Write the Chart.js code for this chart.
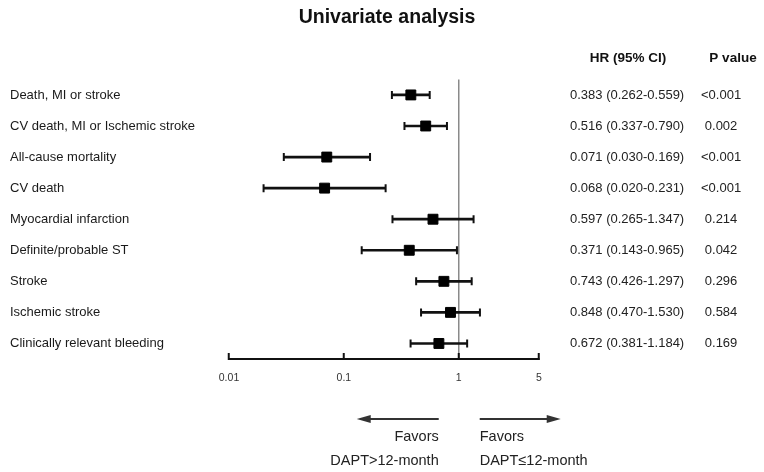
<!DOCTYPE html>
<html>
<head>
<meta charset="utf-8">
<script src="https://cdn.jsdelivr.net/npm/chart.js@4.4.0/dist/chart.umd.min.js"></script>
<style>
  html, body { margin: 0; padding: 0; background: #fff; }
  canvas { display: block; }
</style>
</head>
<body>
<canvas id="forest" width="764" height="472"></canvas>
<script>
// outcomes, top to bottom
var outcomes = ['Death, MI or stroke', 'CV death, MI or Ischemic stroke', 'All-cause mortality', 'CV death',
  'Myocardial infarction', 'Definite/probable ST', 'Stroke', 'Ischemic stroke', 'Clinically relevant bleeding'];
var hr = [0.383, 0.516, 0.071, 0.068, 0.597, 0.371, 0.743, 0.848, 0.672];
var ciLow = [0.262, 0.337, 0.030, 0.020, 0.265, 0.143, 0.426, 0.470, 0.381];
var ciHigh = [0.559, 0.790, 0.169, 0.231, 1.347, 0.965, 1.297, 1.530, 1.184];
var pValues = ['<0.001', '0.002', '<0.001', '<0.001', '0.214', '0.042', '0.296', '0.584', '0.169'];
var tickValues = [0.01, 0.1, 1, 5];
var tickLabels = ['0.01', '0.1', '1', '5'];

var FONT = "'Liberation Sans', Arial, Helvetica, sans-serif";
Chart.defaults.font.family = FONT;

// "0.383 (0.262-0.559)" column text
var hrText = hr.map(function(v, i) {
  return v.toFixed(3) + ' (' + ciLow[i].toFixed(3) + '-' + ciHigh[i].toFixed(3) + ')';
});

var ciBars = outcomes.map(function(o, i) { return [ciLow[i], ciHigh[i]]; });
var caps = [];
outcomes.forEach(function(o, i) {
  caps.push({x: ciLow[i], y: o});
  caps.push({x: ciHigh[i], y: o});
});
var points = outcomes.map(function(o, i) { return {x: hr[i], y: o}; });

// headers, arrows and "Favors" text below the axis
var extras = {
  id: 'extras',
  afterDraw: function(chart) {
    var c = chart.ctx;
    var px1 = chart.scales.x.getPixelForValue(1);
    c.save();
    c.fillStyle = '#111';
    c.font = 'bold 13.5px ' + FONT;
    c.textAlign = 'center';
    c.textBaseline = 'middle';
    c.fillText('HR (95% CI)', 628, 58);
    c.fillText('P value', 733, 58);

    // arrows
    var ay = 419;
    c.strokeStyle = '#333';
    c.fillStyle = '#333';
    c.lineWidth = 2;
    c.beginPath();
    c.moveTo(px1 - 20, ay); c.lineTo(px1 - 92, ay);
    c.moveTo(px1 + 21, ay); c.lineTo(px1 + 92, ay);
    c.stroke();
    c.beginPath();
    c.moveTo(px1 - 102, ay); c.lineTo(px1 - 88, ay - 4); c.lineTo(px1 - 88, ay + 4); c.closePath();
    c.moveTo(px1 + 102, ay); c.lineTo(px1 + 88, ay - 4); c.lineTo(px1 + 88, ay + 4); c.closePath();
    c.fill();

    c.fillStyle = '#222';
    c.font = '14.5px ' + FONT;
    c.textAlign = 'right';
    c.fillText('Favors', px1 - 20, 437);
    c.fillText('DAPT>12-month', px1 - 20, 461);
    c.textAlign = 'left';
    c.fillText('Favors', px1 + 21, 437);
    c.fillText('DAPT\u226412-month', px1 + 21, 461);
    c.restore();
  }
};

var chart = new Chart(document.getElementById('forest').getContext('2d'), {
  data: {
    labels: outcomes,
    datasets: [
      {
        type: 'bar', indexAxis: 'y', data: ciBars,
        backgroundColor: '#111', barThickness: 2, borderSkipped: false, order: 3
      },
      {
        type: 'scatter', data: caps, pointStyle: 'line', rotation: 90, radius: 4,
        borderColor: '#111', borderWidth: 2, order: 2
      },
      {
        type: 'scatter', data: points, pointStyle: 'rect', radius: 7,
        backgroundColor: '#000', borderColor: '#000', borderWidth: 1, order: 1
      }
    ]
  },
  options: {
    responsive: false,
    animation: false,
    layout: { padding: { left: 10, top: 0, right: 0, bottom: 0 } },
    plugins: {
      legend: { display: false },
      tooltip: { enabled: false },
      title: {
        display: true,
        text: 'Univariate analysis',
        color: '#111',
        font: { size: 19.5, weight: 'bold' },
        padding: { top: 6, bottom: 50 }
      }
    },
    scales: {
      x: {
        type: 'logarithmic',
        position: 'bottom',
        min: 0.01,
        max: 5,
        afterBuildTicks: function(s) {
          s.ticks = tickValues.map(function(v) { return {value: v}; });
        },
        afterFit: function(s) { s.height = 113; },
        border: { color: '#111', width: 2 },
        grid: {
          color: function(ctx) { return ctx.tick && ctx.tick.value === 1 ? '#8a8a8a' : 'rgba(0,0,0,0)'; },
          lineWidth: 1.5,
          tickColor: '#111',
          tickWidth: 2,
          tickLength: -6
        },
        ticks: {
          color: '#333',
          font: { size: 10.5 },
          padding: 19,
          maxRotation: 0,
          autoSkip: false,
          callback: function(v) {
            var i = tickValues.indexOf(v);
            return i < 0 ? '' : tickLabels[i];
          }
        }
      },
      y: {
        type: 'category',
        position: 'left',
        offset: true,
        grid: { display: false, drawTicks: false },
        border: { display: false },
        ticks: { crossAlign: 'far', color: '#1a1a1a', font: { size: 13 } },
        afterFit: function(s) { s.width = 219; }
      },
      yHr: {
        type: 'category',
        position: 'right',
        labels: hrText,
        offset: true,
        weight: 0,
        grid: { display: false, drawTicks: false },
        border: { display: false },
        ticks: { crossAlign: 'center', padding: 31, color: '#222', font: { size: 13 } },
        afterFit: function(s) { s.width = 150; }
      },
      yP: {
        type: 'category',
        position: 'right',
        labels: pValues,
        offset: true,
        weight: 1,
        grid: { display: false, drawTicks: false },
        border: { display: false },
        ticks: { crossAlign: 'center', padding: 12, color: '#222', font: { size: 13 } },
        afterFit: function(s) { s.width = 75; }
      }
    }
  },
  plugins: [extras]
});
</script>
</body>
</html>
